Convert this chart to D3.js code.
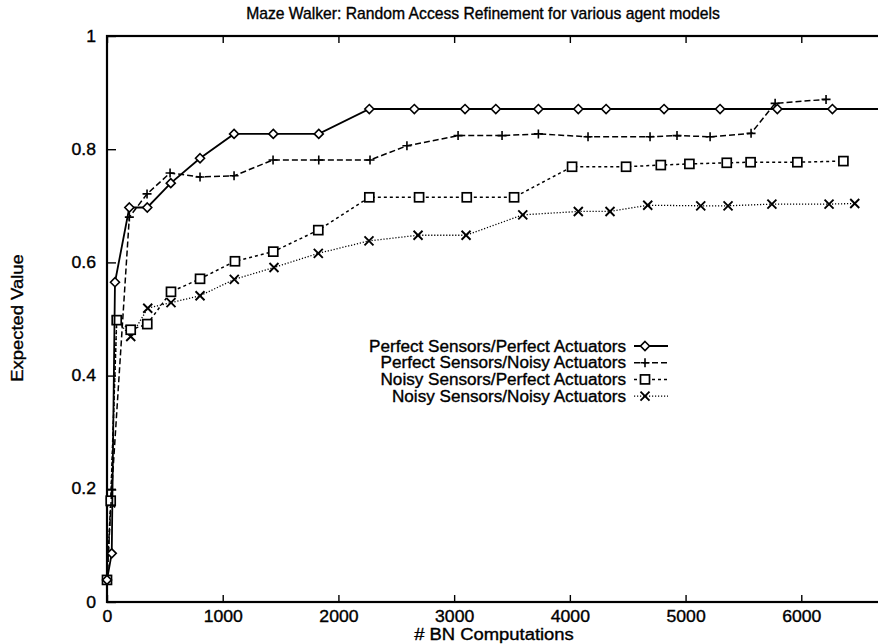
<!DOCTYPE html>
<html><head><meta charset="utf-8">
<script src="https://cdn.jsdelivr.net/npm/d3@7"></script>
<style>body{margin:0;background:#fff}svg{display:block}text{font-family:"Liberation Sans",Arial,sans-serif;fill:#000;stroke:#000;stroke-width:0.35px}</style>
</head><body><svg id="c" width="878" height="644"></svg>
<script>
const seriesNames = ["Perfect Sensors/Perfect Actuators","Perfect Sensors/Noisy Actuators","Noisy Sensors/Perfect Actuators","Noisy Sensors/Noisy Actuators"];
const ppX = [0,41,69,193,348,551,804,1098,1437,1830,2267,2656,3094,3360,3728,4073,4313,4814,5298,5793,6269,7000];
const ppY = [0.039,0.086,0.565,0.697,0.697,0.740,0.784,0.827,0.827,0.827,0.871,0.871,0.871,0.871,0.871,0.871,0.871,0.871,0.871,0.871,0.871,0.871];
const pnX = [0,41,193,346,545,804,1098,1435,1830,2273,2592,3034,3414,3728,4157,4693,4926,5212,5566,5774,6214];
const pnY = [0.039,0.198,0.680,0.721,0.758,0.751,0.753,0.781,0.781,0.781,0.806,0.824,0.824,0.827,0.822,0.822,0.824,0.822,0.828,0.881,0.888];
const npX = [0,32,84,205,348,553,804,1106,1437,1826,2267,2697,3109,3518,4019,4486,4786,5033,5356,5562,5966,6364];
const npY = [0.039,0.179,0.498,0.481,0.491,0.548,0.571,0.602,0.619,0.657,0.715,0.715,0.715,0.715,0.769,0.769,0.772,0.774,0.776,0.777,0.777,0.779];
const nnX = [0,32,84,205,352,553,804,1100,1443,1826,2264,2688,3103,3593,4073,4347,4673,5131,5367,5746,6240,6462];
const nnY = [0.039,0.175,0.498,0.469,0.519,0.529,0.541,0.570,0.591,0.616,0.638,0.648,0.648,0.684,0.690,0.690,0.701,0.700,0.700,0.703,0.703,0.704];
const xTicks = [0,1000,2000,3000,4000,5000,6000];
const yTicks = [0,0.2,0.4,0.6,0.8,1];

const svg = d3.select("#c");
const x = d3.scaleLinear().domain([0,7000]).range([107,917]);
const y = d3.scaleLinear().domain([0,1]).range([602,36]);

function stretch(sel, f){
  sel.each(function(){const w=this.getComputedTextLength(); d3.select(this).attr("textLength",w*f).attr("lengthAdjust","spacingAndGlyphs");});
}

svg.append("rect").attr("x",x(0)).attr("y",y(1)).attr("width",x(7000)-x(0)).attr("height",y(0)-y(1))
  .attr("fill","none").attr("stroke","#000").attr("stroke-width",2.2);

const xb = d3.axisBottom(x).tickValues(xTicks).tickSize(-7).tickPadding(9).tickFormat(d3.format("d"));
const xt = d3.axisTop(x).tickValues(xTicks).tickSize(-7).tickFormat("");
const yl = d3.axisLeft(y).tickValues(yTicks).tickSize(-9).tickPadding(11).tickFormat(d=>String(+d.toFixed(1)));
const yr = d3.axisRight(y).tickValues(yTicks).tickSize(-9).tickFormat("");
function styleAxis(g){g.select(".domain").remove();g.selectAll("line").attr("stroke","#000").attr("stroke-width",1.4);g.selectAll("text").attr("font-size",16).attr("font-family","Liberation Sans, Arial, sans-serif");}
svg.append("g").attr("transform",`translate(0,${y(0)})`).call(xb).call(styleAxis).selectAll("text").call(stretch,1.1);
svg.append("g").attr("transform",`translate(0,${y(1)})`).call(xt).call(styleAxis);
svg.append("g").attr("transform",`translate(${x(0)},0)`).call(yl).call(styleAxis).selectAll("text").call(stretch,1.1);
svg.append("g").attr("transform",`translate(${x(7000)},0)`).call(yr).call(styleAxis);

svg.append("text").attr("x",483).attr("y",19).attr("text-anchor","middle").attr("font-size",15.7).text("Maze Walker: Random Access Refinement for various agent models");
svg.append("text").attr("x",494).attr("y",640).attr("text-anchor","middle").attr("font-size",16).text("# BN Computations").call(stretch,1.15);
svg.append("text").attr("transform","translate(23,318) rotate(-90)").attr("text-anchor","middle").attr("font-size",16).text("Expected Value").call(stretch,1.15);

const dashes = ["none","6,3","3,3","1.2,1.8"];
const widths = [1.8,1.5,1.5,1.3];
const data = [[ppX,ppY],[pnX,pnY],[npX,npY],[nnX,nnY]];
const sym = ["diamond","plus","square","cross"];

function marker(g,type,cx,cy){
  const s=4.5;
  if(type==="diamond") g.append("path").attr("d",`M${cx},${cy-s}L${cx+s},${cy}L${cx},${cy+s}L${cx-s},${cy}Z`).attr("fill","#fff").attr("stroke","#000").attr("stroke-width",1.6);
  else if(type==="plus") g.append("path").attr("d",`M${cx-s},${cy}H${cx+s}M${cx},${cy-s}V${cy+s}`).attr("stroke","#000").attr("stroke-width",1.6).attr("fill","none");
  else if(type==="square") g.append("rect").attr("x",cx-s).attr("y",cy-s).attr("width",2*s).attr("height",2*s).attr("fill","#fff").attr("stroke","#000").attr("stroke-width",1.7);
  else g.append("path").attr("d",`M${cx-s},${cy-s}L${cx+s},${cy+s}M${cx-s},${cy+s}L${cx+s},${cy-s}`).attr("stroke","#000").attr("stroke-width",1.9).attr("fill","none");
}

const line = d3.line().x(d=>x(d[0])).y(d=>y(d[1]));
const plot = svg.append("g");
for(let i=3;i>=0;i--){
  const pts = data[i][0].map((v,j)=>[v,data[i][1][j]]);
  plot.append("path").datum(pts).attr("d",line).attr("fill","none").attr("stroke","#000")
    .attr("stroke-width",widths[i]).attr("stroke-dasharray",dashes[i]);
  const mg = plot.append("g");
  pts.forEach(p=>marker(mg,sym[i],x(p[0]),y(p[1])));
}

const lg = svg.append("g");
seriesNames.forEach((n,i)=>{
  const ly = 346 + i*16.7;
  lg.append("text").attr("x",626).attr("y",ly+5.5).attr("text-anchor","end").attr("font-size",16).text(n).call(stretch,1.07);
  lg.append("line").attr("x1",634).attr("x2",668).attr("y1",ly).attr("y2",ly).attr("stroke","#000")
    .attr("stroke-width",widths[i]).attr("stroke-dasharray",dashes[i]);
  marker(lg,sym[i],645,ly);
});
</script></body></html>
